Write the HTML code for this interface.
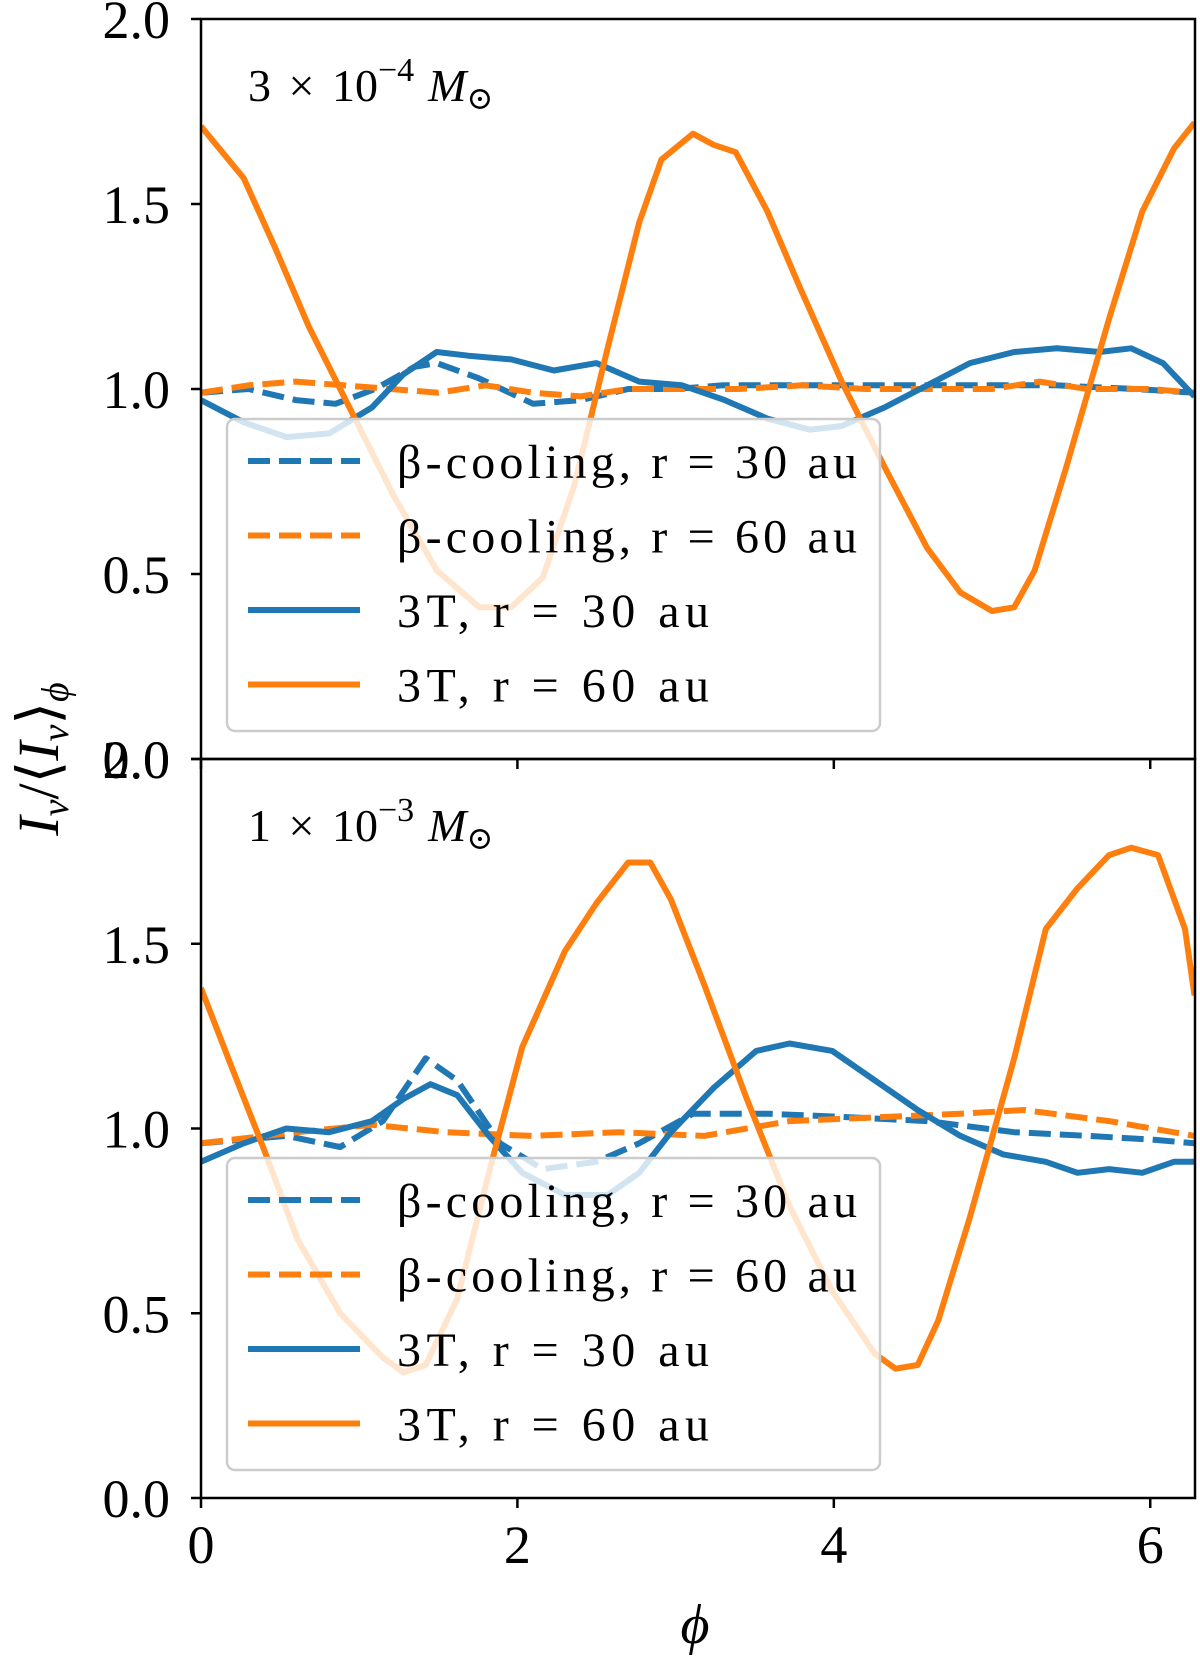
<!DOCTYPE html>
<html><head><meta charset="utf-8">
<style>
html,body{margin:0;padding:0;background:#fff;}
svg{display:block;font-family:"Liberation Serif","DejaVu Serif",serif;}
</style></head>
<body>
<svg id="chart" width="1200" height="1664" viewBox="0 0 1200 1664" xmlns="http://www.w3.org/2000/svg"></svg>
<script>
// ---- data ----
const xTicks = [0, 2, 4, 6];
const yTicks = [0.0, 0.5, 1.0, 1.5, 2.0];
const yTickLabels = ["0.0", "0.5", "1.0", "1.5", "2.0"];
const xTickLabels = ["0", "2", "4", "6"];
const seriesNames = ["β-cooling, r = 30 au", "β-cooling, r = 60 au", "3T, r = 30 au", "3T, r = 60 au"];

// top panel (3e-4 Msun)
const topOrangeSolidPhi = [0,0.27,0.47,0.68,0.95,1.22,1.49,1.76,1.96,2.16,2.36,2.57,2.77,2.91,3.11,3.24,3.38,3.58,3.78,4.05,4.32,4.59,4.80,5.0,5.14,5.27,5.47,5.74,5.95,6.15,6.28];
const topOrangeSolid = [1.71,1.57,1.38,1.17,0.94,0.71,0.51,0.41,0.41,0.49,0.74,1.11,1.45,1.62,1.69,1.66,1.64,1.48,1.28,1.02,0.79,0.57,0.45,0.40,0.41,0.51,0.79,1.19,1.48,1.65,1.72];
const topBlueSolidPhi = [0,0.27,0.54,0.81,1.08,1.28,1.49,1.69,1.96,2.23,2.5,2.77,3.04,3.31,3.58,3.85,4.05,4.32,4.59,4.86,5.14,5.41,5.68,5.88,6.08,6.28];
const topBlueSolid = [0.97,0.91,0.87,0.88,0.95,1.04,1.10,1.09,1.08,1.05,1.07,1.02,1.01,0.97,0.92,0.89,0.90,0.95,1.01,1.07,1.10,1.11,1.10,1.11,1.07,0.98];
const topBlueDashPhi = [0,0.3,0.6,0.85,1.1,1.35,1.49,1.75,2.1,2.4,2.7,3.0,3.3,3.6,3.9,4.2,4.6,5.0,5.4,5.9,6.28];
const topBlueDash = [0.99,1.0,0.97,0.96,1.0,1.06,1.07,1.03,0.96,0.97,1.0,1.0,1.01,1.01,1.01,1.01,1.01,1.01,1.01,1.0,0.99];
const topOrangeDashPhi = [0,0.3,0.6,0.9,1.2,1.5,1.8,2.1,2.4,2.7,3.0,3.4,3.8,4.2,4.6,5.0,5.3,5.6,6.0,6.28];
const topOrangeDash = [0.99,1.01,1.02,1.01,1.0,0.99,1.01,0.99,0.98,1.0,1.0,1.0,1.01,1.0,1.0,1.0,1.02,1.0,1.0,0.99];

// bottom panel (1e-3 Msun)
const botOrangeSolidPhi = [0,0.2,0.41,0.61,0.88,1.15,1.28,1.42,1.62,1.82,2.03,2.3,2.5,2.7,2.84,2.97,3.18,3.45,3.72,3.99,4.26,4.39,4.53,4.66,4.86,5.14,5.34,5.54,5.74,5.88,6.05,6.22,6.28];
const botOrangeSolid = [1.38,1.16,0.93,0.70,0.50,0.38,0.34,0.36,0.54,0.88,1.22,1.48,1.61,1.72,1.72,1.62,1.39,1.08,0.79,0.56,0.39,0.35,0.36,0.48,0.76,1.19,1.54,1.65,1.74,1.76,1.74,1.54,1.36];
const botBlueSolidPhi = [0,0.27,0.54,0.81,1.08,1.28,1.45,1.62,1.82,2.03,2.3,2.57,2.77,2.97,3.24,3.51,3.72,3.99,4.26,4.53,4.8,5.07,5.34,5.54,5.74,5.95,6.15,6.28];
const botBlueSolid = [0.91,0.96,1.0,0.99,1.02,1.08,1.12,1.09,0.98,0.88,0.82,0.82,0.88,0.99,1.11,1.21,1.23,1.21,1.13,1.05,0.98,0.93,0.91,0.88,0.89,0.88,0.91,0.91];
const botBlueDashPhi = [0,0.54,0.88,1.15,1.42,1.62,1.89,2.16,2.5,2.77,3.11,3.58,4.12,4.59,5.14,5.61,6.01,6.28];
const botBlueDash = [0.96,0.98,0.95,1.02,1.19,1.13,0.96,0.89,0.91,0.96,1.04,1.04,1.03,1.02,0.99,0.98,0.97,0.96];
const botOrangeDashPhi = [0,0.61,1.08,1.55,2.09,2.64,3.18,3.72,4.26,4.8,5.2,5.74,6.28];
const botOrangeDash = [0.96,0.99,1.01,0.99,0.98,0.99,0.98,1.02,1.03,1.04,1.05,1.02,0.98];

// ---- layout ----
const NS = "http://www.w3.org/2000/svg";
const svg = document.getElementById("chart");
const L = 201, R = 1195, XMAX = 6.283;
const panels = [
  {top: 19, bot: 759, label: ["3 × 10", "−4", "M"], legTop: 419, name: "top"},
  {top: 759, bot: 1498, label: ["1 × 10", "−3", "M"], legTop: 1158, name: "bottom"}
];
const BLUE = "#1f77b4", ORANGE = "#ff7f0e";
const legendWidths = [460, 460, 312, 312];
function xs(v){ return L + (v / XMAX) * (R - L); }
function mk(tag, attrs, parent){ const e = document.createElementNS(NS, tag); for (const k in attrs) e.setAttribute(k, attrs[k]); (parent || svg).appendChild(e); return e; }

function drawPanel(p, idx, series){
  const ys = v => p.bot - (v / 2) * (p.bot - p.top);
  const g = mk("g", {});
  
  
  const clipId = "clip" + idx;
  const cp = mk("clipPath", {id: clipId}, g);
  mk("rect", {x: L, y: p.top, width: R - L, height: p.bot - p.top}, cp);
  const lines = mk("g", {"clip-path": "url(#" + clipId + ")"}, g);
  series.forEach(s => {
    const d = s.phi.map((ph, i) => (i ? "L" : "M") + xs(ph).toFixed(1) + "," + ys(s.vals[i]).toFixed(1)).join(" ");
    const path = mk("path", {d: d, fill: "none", stroke: s.color, "stroke-width": 6, "stroke-linejoin": "round", "stroke-dasharray": s.dash ? "22,9" : "none"}, lines);
    
    
  });
  // legend
  const lg = mk("g", {}, g);
  
  
  mk("rect", {x: 227, y: p.legTop, width: 653, height: 312, rx: 8, fill: "rgba(255,255,255,0.8)", stroke: "#cccccc", "stroke-width": 2.5}, lg);
  const styles = [[BLUE, true], [ORANGE, true], [BLUE, false], [ORANGE, false]];
  styles.forEach((st, i) => {
    const cy = p.legTop + 42 + i * 74.5;
    const ent = mk("g", {}, lg);
    
    
    mk("line", {x1: 248, x2: 360, y1: cy, y2: cy, stroke: st[0], "stroke-width": 6, "stroke-dasharray": st[1] ? "22,9" : "none"}, ent);
    const t = mk("text", {x: 397, y: cy + 17, "font-size": 48, fill: "#000", textLength: legendWidths[i], lengthAdjust: "spacing"}, ent);
    t.textContent = seriesNames[i];
  });
  // frame
  const fr = mk("rect", {x: L, y: p.top, width: R - L, height: p.bot - p.top, fill: "none", stroke: "#000", "stroke-width": 2.5}, g);
  
  
  // y ticks
  yTicks.forEach((v, i) => {
    const y = ys(v);
    mk("line", {x1: L - 10, x2: L, y1: y, y2: y, stroke: "#000", "stroke-width": 2.5}, g);
    const t = mk("text", {x: 170, y: y + 19, "font-size": 54, "text-anchor": "end"}, g);
    
    
    t.textContent = yTickLabels[i];
  });
  xTicks.forEach(v => mk("line", {x1: xs(v), x2: xs(v), y1: p.bot, y2: p.bot + 10, stroke: "#000", "stroke-width": 2.5}, g));
  // panel label
  const lab = mk("text", {x: 248, y: p.top + 82, "font-size": 46, "word-spacing": "6"}, g);
  
  
  lab.innerHTML = p.label[0] + '<tspan dy="-20" font-size="34">' + p.label[1] + '</tspan><tspan dy="20" font-style="italic" dx="14">M</tspan><tspan font-size="32" dy="8">⊙</tspan>';
}

drawPanel(panels[0], 0, [
  {phi: topBlueDashPhi, vals: topBlueDash, color: BLUE, dash: true, name: "beta-cooling-30au-line"},
  {phi: topOrangeDashPhi, vals: topOrangeDash, color: ORANGE, dash: true, name: "beta-cooling-60au-line"},
  {phi: topBlueSolidPhi, vals: topBlueSolid, color: BLUE, dash: false, name: "3t-30au-line"},
  {phi: topOrangeSolidPhi, vals: topOrangeSolid, color: ORANGE, dash: false, name: "3t-60au-line"}
]);
drawPanel(panels[1], 1, [
  {phi: botBlueDashPhi, vals: botBlueDash, color: BLUE, dash: true, name: "beta-cooling-30au-line"},
  {phi: botOrangeDashPhi, vals: botOrangeDash, color: ORANGE, dash: true, name: "beta-cooling-60au-line"},
  {phi: botBlueSolidPhi, vals: botBlueSolid, color: BLUE, dash: false, name: "3t-30au-line"},
  {phi: botOrangeSolidPhi, vals: botOrangeSolid, color: ORANGE, dash: false, name: "3t-60au-line"}
]);

// x tick labels
xTicks.forEach((v, i) => {
  const t = mk("text", {x: xs(v), y: 1563, "font-size": 54, "text-anchor": "middle"});
  
  
  t.textContent = xTickLabels[i];
});
const xl = mk("text", {x: 695, y: 1643, "font-size": 56, "font-style": "italic", "text-anchor": "middle"});


xl.textContent = "ϕ";
const yl = mk("text", {x: 0, y: 0, "font-size": 58, "text-anchor": "middle", transform: "translate(58,759) rotate(-90)"});


yl.innerHTML = '<tspan font-style="italic">I</tspan><tspan font-size="38" dy="10" font-style="italic">ν</tspan><tspan dy="-10">/⟨</tspan><tspan font-style="italic">I</tspan><tspan font-size="38" dy="10" font-style="italic">ν</tspan><tspan dy="-10">⟩</tspan><tspan font-size="38" dy="10" font-style="italic">ϕ</tspan>';
</script>
</body></html>
